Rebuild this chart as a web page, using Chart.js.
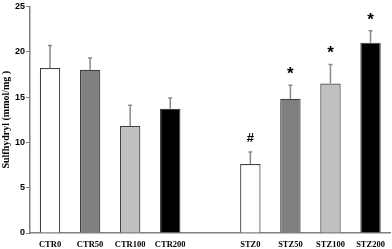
<!DOCTYPE html>
<html>
<head>
<meta charset="utf-8">
<script src="https://cdn.jsdelivr.net/npm/chart.js@4"></script>
<style>
  html, body { margin: 0; padding: 0; background: #fff; }
  #wrap { width: 392px; height: 249px; }
</style>
</head>
<body>
<div id="wrap"><canvas id="chart"></canvas></div>
<script>
const labels = ["CTR0", "CTR50", "CTR100", "CTR200", "", "STZ0", "STZ50", "STZ100", "STZ200"];
const values = [18.2, 18.0, 11.8, 13.7, null, 7.6, 14.8, 16.5, 21.0];
const errors = [2.5, 1.3, 2.3, 1.2, null, 1.35, 1.5, 2.1, 1.3];
const marks = ["", "", "", "", "", "#", "*", "*", "*"];
const colors = ["#ffffff", "#808080", "#c0c0c0", "#000000", "#ffffff", "#ffffff", "#808080", "#c0c0c0", "#000000"];

const errorBars = {
  id: "errorBars",
  afterDatasetsDraw(chart) {
    const c = chart.ctx;
    const y = chart.scales.y;
    const meta = chart.getDatasetMeta(0);
    meta.data.forEach((bar, i) => {
      if (values[i] == null) return;
      const top = y.getPixelForValue(values[i]);
      const end = y.getPixelForValue(values[i] + errors[i]);
      c.save();
      c.strokeStyle = "#8a8a8a";
      c.lineWidth = 1.5;
      c.beginPath();
      c.moveTo(bar.x, top);
      c.lineTo(bar.x, end);
      c.moveTo(bar.x - 2, end);
      c.lineTo(bar.x + 2, end);
      c.stroke();
      if (marks[i]) {
        c.fillStyle = "#000";
        c.textAlign = "center";
        c.textBaseline = "middle";
        c.font = marks[i] == "*" ? "bold 17px 'Liberation Sans'" : "bold 13px 'Liberation Sans'";
        c.fillText(marks[i], bar.x, end - (marks[i] == "*" ? 11 : 13));
      }
      c.restore();
    });
  }
};

new Chart(document.getElementById("chart"), {
  type: "bar",
  data: {
    labels: labels,
    datasets: [{
      data: values,
      backgroundColor: colors,
      borderColor: "#404040",
      borderWidth: 1.2,
      barPercentage: 0.51,
      categoryPercentage: 1.0
    }]
  },
  options: {
    responsive: true,
    maintainAspectRatio: false,
    animation: false,
    layout: { padding: { top: 0, right: 1, left: 0, bottom: 0 } },
    plugins: { legend: { display: false }, tooltip: { enabled: false } },
    scales: {
      x: {
        grid: { display: false, drawTicks: false },
        border: { color: "#808080", width: 1.5 },
        ticks: { color: "#000", font: { family: "'Liberation Serif'", weight: "bold", size: 8.5 }, padding: 7 },
        afterFit: s => { s.height = 16; }
      },
      y: {
        min: 0,
        max: 25,
        ticks: { stepSize: 5, color: "#000", font: { family: "'Liberation Sans'", weight: "bold", size: 9 }, padding: 1 },
        grid: { drawOnChartArea: false, drawTicks: true, tickLength: 4, color: "#808080" },
        border: { color: "#808080", width: 1.5 },
        title: { display: true, text: "Sulfhydryl (mmol/mg )", color: "#000", font: { family: "'Liberation Serif'", weight: "bold", size: 10 }, padding: 0 },
        afterFit: s => { s.width = 30; }
      }
    }
  },
  plugins: [errorBars]
});
</script>
</body>
</html>
